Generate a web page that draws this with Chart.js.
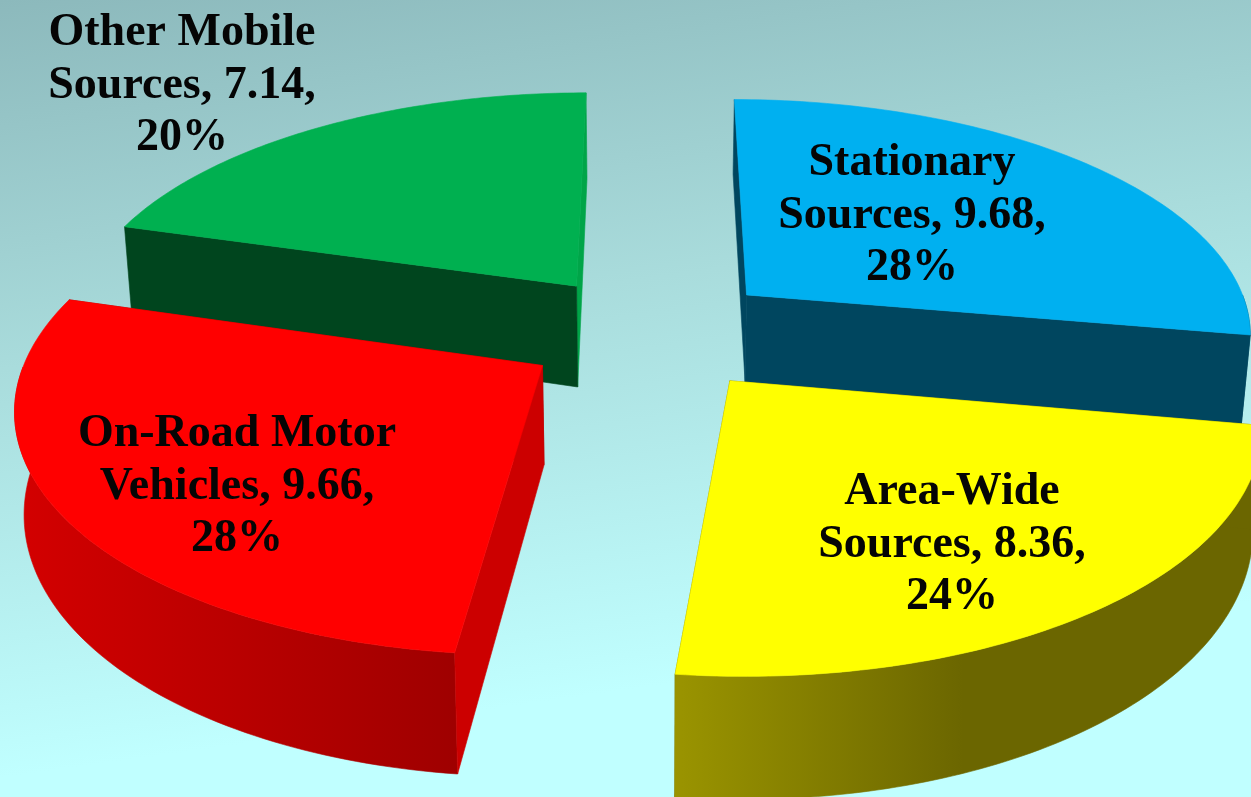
<!DOCTYPE html>
<html lang="en">
<head>
  <meta charset="UTF-8" />
  <title>Emissions by source</title>
  <script src="https://cdn.jsdelivr.net/npm/chart.js"></script>
  <style>
    html, body {
      margin: 0;
      width: 1251px;
      height: 797px;
      overflow: hidden;
    }
    body {
      background: linear-gradient(172deg, #8cb9bc 0%, #a9dcdc 38%, #c0ffff 80%);
    }
    canvas { display: block; }
  </style>
</head>
<body>
  <canvas id="pie" width="1251" height="797"></canvas>

  <script>
    const firstLines = ["Stationary", "Area-Wide", "On-Road Motor", "Other Mobile"];
    const secondLines = ["Sources", "Sources", "Vehicles", "Sources"];
    const values = [9.68, 8.36, 9.66, 7.14];
    const percents = [28, 24, 28, 20];

    const topColors = ["#00b0f0", "#ffff00", "#ff0000", "#00b050"];
    const startWallColors = ["#00465f", "#6b6600", "#cc0000", "#00451e"];
    const endWallColors = ["#00465f", "#6b6600", "#a00000", "#00a548"];
    // x range (fraction of width) and colours of the curved wall
    const outerWallShades = [
      [0, 1, "#00465f", "#00465f"],
      [0.54, 0.77, "#9a9400", "#6b6600"],
      [0.01, 0.37, "#d40000", "#9e0000"],
      [0, 1, "#00451e", "#00451e"]
    ];
    const wallDepths = [0.95, 1.02, 1.02, 1.1];

    const labelCenters = [[912, 216], [952, 545], [237, 487], [182, 86]];
    const labelLineGap = 52.5;
    const labelFont = "bold 46px 'Liberation Serif'";

    // flat pie plane -> tilted picture
    const view = { cx: 651, cy: 332, rx: 508, ry: 235, persp: 0.15, depth: 95, depthPow: 1.2, lean: 0.015 };

    function project(px, py, lowered) {
      const s = 1 / (1 - view.persp * py);
      let x = view.cx + view.rx * px * s;
      let y = view.cy + view.ry * py * s;
      if (lowered) {
        y += view.depth * lowered * Math.pow(s, view.depthPow);
        x += (view.cx - x) * view.lean;
      }
      return [x, y];
    }

    function fillPoly(ctx, pts, fill) {
      ctx.beginPath();
      pts.forEach((p, i) => i ? ctx.lineTo(p[0], p[1]) : ctx.moveTo(p[0], p[1]));
      ctx.closePath();
      ctx.fillStyle = fill;
      ctx.fill();
      // thin stroke closes the seams between the faces
      ctx.strokeStyle = fill;
      ctx.lineWidth = 0.6;
      ctx.stroke();
    }

    const tiltedPie = {
      id: "tiltedPie",
      beforeDatasetsDraw(chart) {
        const ctx = chart.ctx;
        const arcs = chart.getDatasetMeta(0).data;

        const slices = arcs.map((arc, i) => {
          const mid = (arc.startAngle + arc.endAngle) / 2;
          const off = arc.options.offset / arc.outerRadius;
          return {
            i,
            ox: off * Math.cos(mid),
            oy: off * Math.sin(mid),
            start: arc.startAngle,
            end: arc.endAngle
          };
        });

        // far slices first
        slices.slice().sort((a, b) => a.oy - b.oy).forEach(sl => {
          const rim = [];
          const steps = 90;
          for (let k = 0; k <= steps; k++) {
            const a = sl.start + (sl.end - sl.start) * k / steps;
            rim.push([sl.ox + Math.cos(a), sl.oy + Math.sin(a), Math.sin(a)]);
          }
          const d = wallDepths[sl.i];
          const low = p => project(p[0], p[1], d);
          const up = p => project(p[0], p[1], 0);
          const apex = [sl.ox, sl.oy];
          const first = rim[0];
          const last = rim[rim.length - 1];

          const shade = outerWallShades[sl.i];
          const grad = ctx.createLinearGradient(shade[0] * chart.width, 0, shade[1] * chart.width, 0);
          grad.addColorStop(0, shade[2]);
          grad.addColorStop(1, shade[3]);

          fillPoly(ctx, [up(apex), up(last), low(last), low(apex)], endWallColors[sl.i]);
          // only the near part of the curved wall can be seen
          const near = rim.filter(p => p[2] > 0);
          if (near.length > 1) {
            fillPoly(ctx, near.map(up).concat(near.slice().reverse().map(low)), grad);
          }
          fillPoly(ctx, [up(apex), up(first), low(first), low(apex)], startWallColors[sl.i]);
          fillPoly(ctx, [up(apex)].concat(rim.map(up)), topColors[sl.i]);
        });

        ctx.save();
        ctx.fillStyle = "#050505";
        ctx.font = labelFont;
        ctx.textAlign = "center";
        ctx.textBaseline = "middle";
        values.forEach((v, i) => {
          const lines = [firstLines[i], secondLines[i] + ", " + v.toFixed(2) + ",", percents[i] + "%"];
          lines.forEach((line, n) => {
            ctx.fillText(line, labelCenters[i][0], labelCenters[i][1] + (n - 1) * labelLineGap);
          });
        });
        ctx.restore();

        return false; // the flat pie itself is not painted
      }
    };

    new Chart(document.getElementById("pie"), {
      type: "pie",
      data: {
        labels: firstLines.map((t, i) => t + " " + secondLines[i]),
        datasets: [{
          data: values,
          backgroundColor: topColors,
          borderWidth: 0,
          offset: 89
        }]
      },
      options: {
        responsive: false,
        animation: false,
        events: [],
        plugins: {
          legend: { display: false },
          tooltip: { enabled: false }
        }
      },
      plugins: [tiltedPie]
    });
  </script>
</body>
</html>
